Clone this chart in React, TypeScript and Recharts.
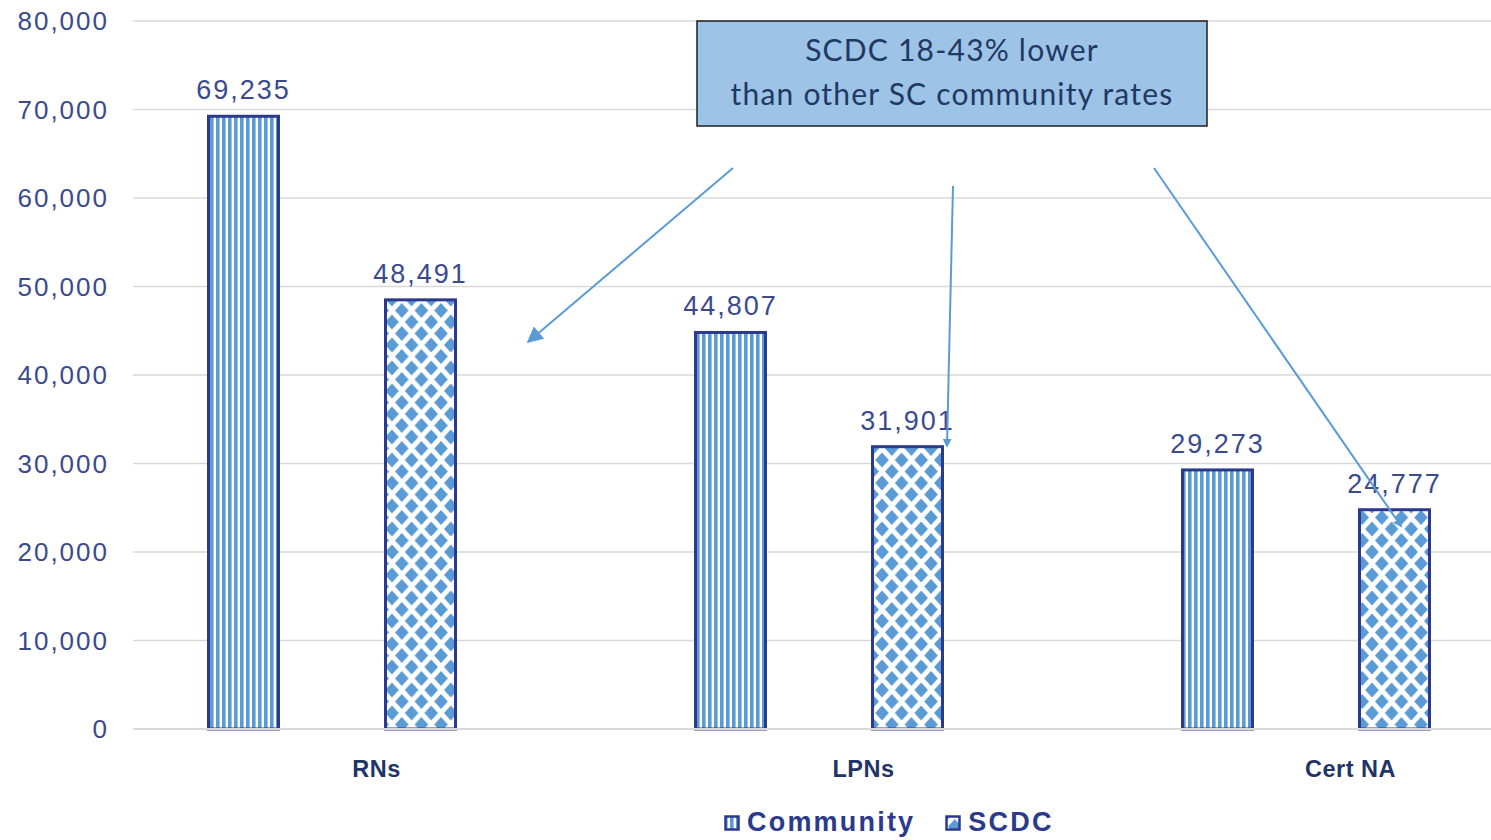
import { BarChart, Bar, XAxis, YAxis, CartesianGrid, Legend, LabelList } from 'recharts';

// values
const categories = ['RNs', 'LPNs', 'Cert NA'];
const communityValues = [69235, 44807, 29273];
const scdcValues = [48491, 31901, 24777];
const yTicks = [0, 10000, 20000, 30000, 40000, 50000, 60000, 70000, 80000];
const calloutLines = ['SCDC 18-43% lower', 'than other SC community rates'];

const data = categories.map((name, i) => ({
  name,
  community: communityValues[i],
  scdc: scdcValues[i],
}));

// bars in the original sit left of the category label
const SHIFT = 44.5;
const NAVY = '#2b3a8c';
const BLUE = '#5b9bd5';
const TEXT = '#3b4a8e';

const fmt = (v: number) => v.toLocaleString('en-US');

const ShiftedBar = (props: any) => {
  const { x, y, width, height, fill } = props;
  return (
    <rect
      x={x - SHIFT}
      y={y}
      width={width}
      height={height}
      fill={fill}
      stroke={NAVY}
      strokeWidth={3}
    />
  );
};

const ValueLabel = (props: any) => {
  const { x, y, width, value } = props;
  return (
    <text
      x={x + width / 2 - SHIFT}
      y={y - 17}
      textAnchor="middle"
      fontSize={27}
      letterSpacing={2}
      fill={TEXT}
      fontFamily="Liberation Sans, Arial, sans-serif"
    >
      {fmt(value)}
    </text>
  );
};

const diamond = (cx: number, cy: number) =>
  `${cx},${cy - 7.5} ${cx + 6.8},${cy} ${cx},${cy + 7.5} ${cx - 6.8},${cy}`;

const LegendContent = () => {
  const item = (label: string, pattern: string, gap: number) => (
    <div style={{ display: 'flex', alignItems: 'center', marginRight: gap }}>
      <svg width={16} height={16} style={{ marginRight: 7 }}>
        <rect x={1.5} y={1.5} width={13} height={13} fill={`url(#${pattern})`} stroke={NAVY} strokeWidth={2.5} />
      </svg>
      <span
        style={{
          fontFamily: 'Liberation Sans, Arial, sans-serif',
          fontWeight: 'bold',
          fontSize: 27,
          letterSpacing: 2.2,
          color: NAVY,
        }}
      >
        {label}
      </span>
    </div>
  );
  return (
    <div style={{ display: 'flex', alignItems: 'center', paddingLeft: 724, paddingTop: 6, height: 35 }}>
      {item('Community', 'stripes', 30)}
      {item('SCDC', 'diamonds', 0)}
    </div>
  );
};

const App = () => {
  return (
    <div style={{ position: 'fixed', left: 0, top: 0, width: 1491, height: 840, overflow: 'hidden', background: '#fff' }}>
      <svg width={0} height={0} style={{ position: 'absolute' }}>
        <defs>
          <pattern id="stripes" patternUnits="userSpaceOnUse" width={6} height={6}>
            <rect width={6} height={6} fill="#fff" />
            <rect width={3.6} height={6} fill={BLUE} />
          </pattern>
          <pattern id="diamonds" patternUnits="userSpaceOnUse" width={19.6} height={23}>
            <rect width={19.6} height={23} fill="#fff" />
            <polygon points={diamond(9.8, 11.5)} fill={BLUE} />
            <polygon points={diamond(0, 0)} fill={BLUE} />
            <polygon points={diamond(19.6, 0)} fill={BLUE} />
            <polygon points={diamond(0, 23)} fill={BLUE} />
            <polygon points={diamond(19.6, 23)} fill={BLUE} />
          </pattern>
          <marker id="arrowHead" viewBox="0 0 10 10" refX={8} refY={5} markerWidth={9} markerHeight={9} orient="auto" markerUnits="userSpaceOnUse">
            <path d="M0,0 L10,5 L0,10 z" fill={BLUE} />
          </marker>
          <marker id="arrowBig" viewBox="0 0 10 10" refX={9} refY={5} markerWidth={20} markerHeight={16} orient="auto" markerUnits="userSpaceOnUse">
            <path d="M0,0 L10,5 L0,10 z" fill={BLUE} />
          </marker>
        </defs>
      </svg>

      <BarChart
        width={1600}
        height={840}
        data={data}
        margin={{ top: 21, right: 6, left: 0, bottom: 0 }}
        barSize={70}
        barGap={107}
      >
        <CartesianGrid vertical={false} stroke="#d9d9d9" strokeWidth={1.5} />
        <XAxis
          dataKey="name"
          height={70}
          tickLine={false}
          tickSize={0}
          axisLine={{ stroke: '#d9d9d9', strokeWidth: 2 }}
          tickMargin={31}
          tick={{
            fontSize: 23.5,
            fontWeight: 'bold',
            fill: '#1f3468',
            fontFamily: 'Liberation Sans, Arial, sans-serif',
            letterSpacing: 0.5,
          }}
        />
        <YAxis
          width={133}
          domain={[0, 80000]}
          ticks={yTicks}
          tickFormatter={fmt}
          axisLine={false}
          tickLine={false}
          tickSize={0}
          tickMargin={24}
          tick={{
            fontSize: 26,
            fill: TEXT,
            fontFamily: 'Liberation Sans, Arial, sans-serif',
            letterSpacing: 2,
          }}
        />
        <Legend verticalAlign="bottom" height={41} content={<LegendContent />} />
        <Bar dataKey="community" name="Community" fill="url(#stripes)" shape={<ShiftedBar />} isAnimationActive={false}>
          <LabelList dataKey="community" content={<ValueLabel />} />
        </Bar>
        <Bar dataKey="scdc" name="SCDC" fill="url(#diamonds)" shape={<ShiftedBar />} isAnimationActive={false}>
          <LabelList dataKey="scdc" content={<ValueLabel />} />
        </Bar>
      </BarChart>

      {/* callout box and arrows */}
      <svg width={1491} height={840} style={{ position: 'absolute', left: 0, top: 0, pointerEvents: 'none' }}>
        <line x1={733} y1={168} x2={528} y2={342} stroke={BLUE} strokeWidth={2} markerEnd="url(#arrowBig)" />
        <line x1={953} y1={186} x2={947} y2={446} stroke={BLUE} strokeWidth={2} markerEnd="url(#arrowHead)" />
        <line x1={1154} y1={168} x2={1401} y2={526} stroke={BLUE} strokeWidth={2} markerEnd="url(#arrowHead)" />
        <rect x={697} y={21} width={510} height={105} fill="#9dc3e6" stroke="#1e1e1e" strokeWidth={1.5} />
        {calloutLines.map((t, i) => (
          <text
            key={t}
            x={952}
            y={61 + i * 44}
            textAnchor="middle"
            fontSize={30}
            letterSpacing={1.2}
            fill="#1f3864"
            fontFamily="Lato, Open Sans, sans-serif"
          >
            {t}
          </text>
        ))}
      </svg>
    </div>
  );
};

export default App;
